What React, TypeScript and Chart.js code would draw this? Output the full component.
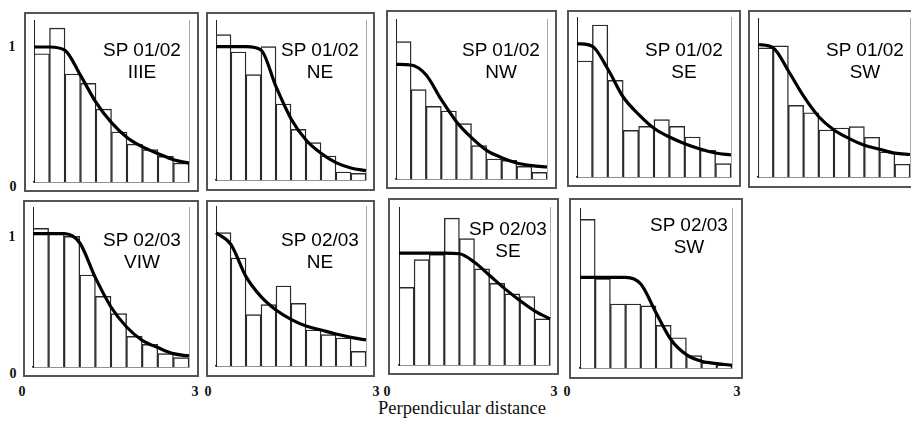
import React, { useEffect, useRef } from "react";
import { Chart, registerables } from "chart.js";

Chart.register(...registerables);

// ---- data ----
const binCenters = [0.15, 0.45, 0.75, 1.05, 1.35, 1.65, 1.95, 2.25, 2.55, 2.85];
const curveX = [0, 0.3, 0.6, 0.9, 1.2, 1.5, 1.8, 2.1, 2.4, 2.7, 3.0];

const barsSP0102_IIIE = [0.95, 1.14, 0.8, 0.73, 0.54, 0.37, 0.28, 0.24, 0.19, 0.14];
const curveSP0102_IIIE = [1.0, 1.0, 0.975, 0.79, 0.59, 0.44, 0.33, 0.26, 0.21, 0.165, 0.14];

const barsSP0102_NE = [1.09, 0.96, 0.79, 1.0, 0.57, 0.38, 0.28, 0.18, 0.06, 0.05];
const curveSP0102_NE = [1.0, 1.0, 1.0, 0.975, 0.7, 0.46, 0.3, 0.2, 0.13, 0.09, 0.07];

const barsSP0102_NW = [1.03, 0.67, 0.545, 0.51, 0.415, 0.25, 0.15, 0.14, 0.095, 0.05];
const curveSP0102_NW = [0.86, 0.855, 0.78, 0.595, 0.43, 0.31, 0.215, 0.16, 0.12, 0.1, 0.09];

const barsSP0102_SE = [0.87, 1.14, 0.725, 0.35, 0.38, 0.43, 0.38, 0.3, 0.2, 0.1];
const curveSP0102_SE = [1.0, 0.98, 0.81, 0.6, 0.47, 0.365, 0.3, 0.25, 0.21, 0.18, 0.165];

const barsSP0102_SW = [0.975, 0.99, 0.54, 0.485, 0.355, 0.37, 0.38, 0.3, 0.19, 0.096];
const curveSP0102_SW = [1.0, 0.975, 0.8, 0.61, 0.455, 0.355, 0.29, 0.24, 0.21, 0.18, 0.17];

const barsSP0203_VIW = [1.04, 1.0, 0.98, 0.69, 0.53, 0.4, 0.23, 0.17, 0.1, 0.07];
const curveSP0203_VIW = [1.0, 1.0, 1.0, 0.93, 0.67, 0.45, 0.3, 0.2, 0.146, 0.1, 0.083];

const barsSP0203_NE = [1.0, 0.81, 0.385, 0.46, 0.6, 0.47, 0.27, 0.235, 0.21, 0.11];
const curveSP0203_NE = [1.0, 0.91, 0.67, 0.52, 0.42, 0.35, 0.3, 0.27, 0.24, 0.215, 0.196];

const barsSP0203_SE = [0.59, 0.8, 0.84, 1.115, 0.96, 0.73, 0.62, 0.54, 0.52, 0.35];
const curveSP0203_SE = [0.85, 0.85, 0.85, 0.85, 0.845, 0.78, 0.68, 0.58, 0.49, 0.41, 0.35];

const barsSP0203_SW = [1.115, 0.67, 0.48, 0.48, 0.466, 0.32, 0.227, 0.093, 0.04, 0.025];
const curveSP0203_SW = [0.68, 0.68, 0.68, 0.68, 0.63, 0.415, 0.21, 0.1, 0.05, 0.033, 0.02];

const yTickLabels = ["0", "1"];
const xTickLabels = ["0", "3"];
const xAxisTitle = "Perpendicular distance";

// ---- layout ----
type PanelDef = {
  title: string[];
  bars: number[];
  curve: number[];
  plot: [number, number, number, number]; // left, right, top, base
  box: [number, number, number, number]; // left, top, right, bottom
  text: [number, number]; // center x, top
};

const panels: PanelDef[] = [
  { title: ["SP 01/02", "IIIE"], bars: barsSP0102_IIIE, curve: curveSP0102_IIIE, plot: [34, 189, 20, 182], box: [24, 12, 199, 192], text: [142, 39] },
  { title: ["SP 01/02", "NE"], bars: barsSP0102_NE, curve: curveSP0102_NE, plot: [216, 366, 20, 180], box: [206, 12, 375, 191], text: [320, 39] },
  { title: ["SP 01/02", "NW"], bars: barsSP0102_NW, curve: curveSP0102_NW, plot: [396, 547, 19, 179], box: [386, 10, 557, 189], text: [501, 39] },
  { title: ["SP 01/02", "SE"], bars: barsSP0102_SE, curve: curveSP0102_SE, plot: [577, 731, 17, 177], box: [567, 10, 741, 187], text: [684, 39] },
  { title: ["SP 01/02", "SW"], bars: barsSP0102_SW, curve: curveSP0102_SW, plot: [758, 910, 18, 177], box: [748, 10, 925, 188], text: [865, 39] },
  { title: ["SP 02/03", "VIW"], bars: barsSP0203_VIW, curve: curveSP0203_VIW, plot: [33, 189, 207, 367], box: [23, 200, 199, 377], text: [142, 229] },
  { title: ["SP 02/03", "NE"], bars: barsSP0203_NE, curve: curveSP0203_NE, plot: [216, 366, 206, 366], box: [206, 200, 375, 377], text: [320, 229] },
  { title: ["SP 02/03", "SE"], bars: barsSP0203_SE, curve: curveSP0203_SE, plot: [399, 550, 207, 365], box: [388, 198, 559, 375], text: [508, 218] },
  { title: ["SP 02/03", "SW"], bars: barsSP0203_SW, curve: curveSP0203_SW, plot: [580, 732, 208, 368], box: [569, 198, 743, 379], text: [689, 214] },
];

const yLabelPos: [string, number, number][] = [
  [yTickLabels[1], 12, 47],
  [yTickLabels[0], 13, 187],
  [yTickLabels[1], 12, 237],
  [yTickLabels[0], 13, 374],
];
const xLabelPos: [string, number, number][] = [
  [xTickLabels[0], 22, 392],
  [xTickLabels[1], 195, 392],
  [xTickLabels[0], 208, 392],
  [xTickLabels[1], 376, 392],
  [xTickLabels[0], 387, 392],
  [xTickLabels[1], 554, 392],
  [xTickLabels[0], 567, 392],
  [xTickLabels[1], 737, 392],
];

const PAD = 4;

const hiddenScale = {
  ticks: { display: false },
  grid: { display: false, drawTicks: false, tickLength: 0 },
};

function Panel({ p }: { p: PanelDef }) {
  const ref = useRef<HTMLCanvasElement | null>(null);
  const [l, r, t, b] = p.plot;
  const w = r - l + 2 * PAD;
  const h = b - t + 2 * PAD;
  useEffect(() => {
    if (!ref.current) return;
    const chart = new Chart(ref.current, {
      type: "bar",
      data: {
        datasets: [
          {
            type: "line",
            data: curveX.map((x, i) => ({ x, y: p.curve[i] })),
            borderColor: "#000",
            borderWidth: 3.2,
            pointRadius: 0,
            cubicInterpolationMode: "monotone",
            clip: false,
            order: 0,
          } as any,
          {
            type: "bar",
            data: binCenters.map((x, i) => ({ x, y: p.bars[i] })),
            backgroundColor: "#fff",
            borderColor: "#2a2a2a",
            borderWidth: 1.4,
            barPercentage: 1,
            categoryPercentage: 1,
            order: 1,
          } as any,
        ],
      },
      options: {
        animation: false,
        responsive: false,
        maintainAspectRatio: false,
        layout: { padding: PAD },
        plugins: { legend: { display: false }, tooltip: { enabled: false } },
        scales: {
          x: {
            type: "linear",
            min: 0,
            max: 3,
            offset: false,
            ...hiddenScale,
            border: { display: true, color: "#222", width: 1.5 },
          },
          y: {
            type: "linear",
            position: "left",
            min: 0,
            max: 1.2,
            ...hiddenScale,
            border: { display: true, color: "#222", width: 1 },
          },
          y2: {
            type: "linear",
            position: "right",
            min: 0,
            max: 1.2,
            ...hiddenScale,
            border: { display: true, color: "#aaa", width: 1, dash: [2, 2] },
          },
        },
      } as any,
    });
    return () => chart.destroy();
  }, []);
  const [bl, bt, br, bb] = p.box;
  return (
    <>
      <div
        style={{
          position: "absolute",
          left: bl,
          top: bt,
          width: br - bl,
          height: bb - bt,
          border: "2px solid #555",
          boxSizing: "border-box",
        }}
      />
      <canvas
        ref={ref}
        width={w}
        height={h}
        style={{ position: "absolute", left: l - PAD, top: t - PAD, width: w, height: h }}
      />
      <div
        style={{
          position: "absolute",
          left: p.text[0] - 60,
          top: p.text[1],
          width: 120,
          textAlign: "center",
          fontFamily: "'Liberation Sans', Arial, sans-serif",
          fontSize: 19,
          lineHeight: "22px",
          color: "#000",
        }}
      >
        {p.title.map((s, i) => (
          <div key={i}>{s}</div>
        ))}
      </div>
    </>
  );
}

export default function App() {
  return (
    <div
      style={{
        position: "fixed",
        left: 0,
        top: 0,
        width: 911,
        height: 424,
        background: "#fff",
        overflow: "hidden",
      }}
    >
      {panels.map((p, i) => (
        <Panel key={i} p={p} />
      ))}
      {[...yLabelPos, ...xLabelPos].map(([s, x, y], i) => (
        <div
          key={"t" + i}
          style={{
            position: "absolute",
            left: x,
            top: y,
            transform: "translate(-50%, -50%)",
            fontFamily: "'Liberation Serif', 'Times New Roman', serif",
            fontWeight: "bold",
            fontSize: 14,
            lineHeight: "14px",
            color: "#111",
          }}
        >
          {s}
        </div>
      ))}
      <div
        style={{
          position: "absolute",
          left: 462,
          top: 408,
          transform: "translate(-50%, -50%)",
          fontFamily: "'Liberation Serif', 'Times New Roman', serif",
          fontSize: 18.5,
          whiteSpace: "nowrap",
          color: "#111",
        }}
      >
        {xAxisTitle}
      </div>
    </div>
  );
}
